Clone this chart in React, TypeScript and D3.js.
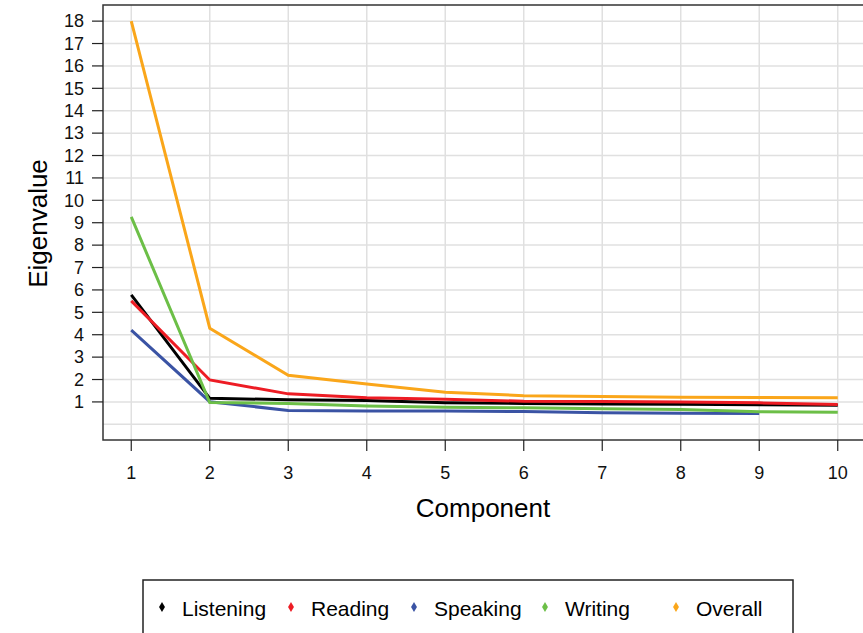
import React from 'react';
import * as d3 from "d3";

const components = [1, 2, 3, 4, 5, 6, 7, 8, 9, 10];
const yTicks = [1, 2, 3, 4, 5, 6, 7, 8, 9, 10, 11, 12, 13, 14, 15, 16, 17, 18];
const yGrid = [0, ...yTicks];

const listening = [5.78, 1.16, 1.10, 1.06, 0.96, 0.93, 0.91, 0.90, 0.87, 0.85];
const reading = [5.51, 1.98, 1.36, 1.19, 1.12, 1.03, 1.02, 1.00, 0.96, 0.88];
const speaking = [4.21, 1.01, 0.62, 0.60, 0.59, 0.57, 0.52, 0.49, 0.48];
const writing = [9.26, 0.97, 0.93, 0.82, 0.76, 0.74, 0.69, 0.66, 0.56, 0.54];
const overall = [18.0, 4.29, 2.19, 1.80, 1.43, 1.28, 1.24, 1.21, 1.20, 1.19];

const seriesNames = ["Listening", "Reading", "Speaking", "Writing", "Overall"];
const seriesColors = ["#000000", "#ed1c24", "#3a53a4", "#6cbf47", "#faa61a"];
const seriesValues = [listening, reading, speaking, writing, overall];

const W = 863;
const H = 633;
const plot = { left: 103, right: 866, top: 5, bottom: 440 };
const font = "'Liberation Sans', Arial, sans-serif";

const App = () => {
    const x = d3.scaleLinear().domain([0.64, 10.36]).range([plot.left, plot.right]);
    const y = d3.scaleLinear().domain([-0.7, 18.72]).range([plot.bottom, plot.top]);

    const line = d3.line<number>()
        .x((_d, i) => x(components[i]))
        .y((d) => y(d));

    // legend positions
    const legendMarkX = [162, 291, 414, 545, 676];
    const legendY = 609;

    return (
        <svg width={W} height={H} style={{ position: "absolute", left: 0, top: 0 }} fontFamily={font}>
            <rect x={0} y={0} width={W} height={H} fill="#fff" />
            {/* grid */}
            {yGrid.map((t) => (
                <line key={"gy" + t} x1={plot.left} x2={plot.right} y1={y(t)} y2={y(t)} stroke="#e0e0e0" strokeWidth={1.5} />
            ))}
            {components.map((c) => (
                <line key={"gx" + c} x1={x(c)} x2={x(c)} y1={plot.top} y2={plot.bottom} stroke="#e0e0e0" strokeWidth={1.5} />
            ))}

            {/* series */}
            {seriesValues.map((vals, i) => (
                <path key={seriesNames[i]} d={line(vals) || ""} fill="none" stroke={seriesColors[i]} strokeWidth={3} />
            ))}

            {/* frame */}
            <rect x={plot.left} y={plot.top} width={plot.right - plot.left} height={plot.bottom - plot.top} fill="none" stroke="#333" strokeWidth={1.5} />

            {/* y axis */}
            {yTicks.map((t) => (
                <g key={"yt" + t}>
                    <line x1={plot.left - 11} x2={plot.left} y1={y(t)} y2={y(t)} stroke="#222" strokeWidth={1.2} />
                    <text x={84} y={y(t)} dy="0.35em" textAnchor="end" fontSize={18} fill="#111">{t}</text>
                </g>
            ))}
            <text transform={`translate(38, ${(155 + 292) / 2}) rotate(-90)`} textAnchor="middle" dy="0.35em" fontSize={26} fill="#000">Eigenvalue</text>

            {/* x axis */}
            {components.map((c) => (
                <g key={"xt" + c}>
                    <line x1={x(c)} x2={x(c)} y1={plot.bottom} y2={plot.bottom + 11} stroke="#222" strokeWidth={1.2} />
                    <text x={x(c)} y={473} dy="0.35em" textAnchor="middle" fontSize={18} fill="#111">{c}</text>
                </g>
            ))}
            <text x={483} y={508} dy="0.35em" textAnchor="middle" fontSize={26} fill="#000">Component</text>

            {/* legend */}
            <rect x={143} y={580} width={650} height={80} fill="#fff" stroke="#222" strokeWidth={1.5} />
            {seriesNames.map((n, i) => (
                <g key={"lg" + n}>
                    <path d={d3.symbol().type(d3.symbolDiamond).size(30)() || ""} transform={`translate(${legendMarkX[i]}, ${legendY - 2})`} fill={seriesColors[i]} />
                    <text x={legendMarkX[i] + 20} y={legendY} dy="0.35em" fontSize={21} fill="#000">{n}</text>
                </g>
            ))}
        </svg>
    );
};

export default App;
